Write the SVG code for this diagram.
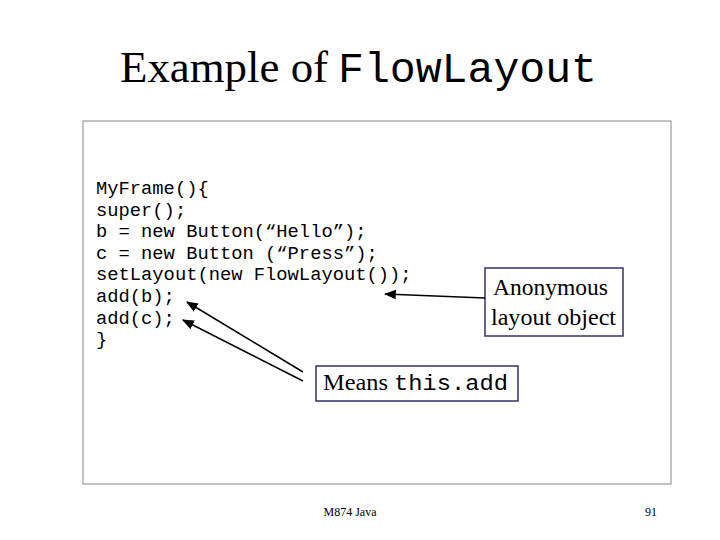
<svg xmlns="http://www.w3.org/2000/svg" width="720" height="540" viewBox="0 0 720 540">
<style>
.t{font-family:"Liberation Serif",serif;fill:#000}
.m{font-family:"Liberation Mono",monospace;fill:#000}
.box{fill:#fff;stroke:#333366;stroke-width:1.5}
.c{stroke:#000;stroke-width:1.5;fill:none;marker-end:url(#ah)}
</style>
<defs><marker id="ah" viewBox="0 0 10 10" refX="9" refY="5" markerWidth="8" markerHeight="8" orient="auto"><path d="M0,1 L10,5 L0,9 Z" fill="#000"/></marker></defs>
<rect width="720" height="540" fill="#fff"/>
<text x="120" y="82" class="t" font-size="44" textLength="208" lengthAdjust="spacingAndGlyphs">Example of</text>
<text x="338" y="82" class="m" font-size="43" textLength="259" lengthAdjust="spacingAndGlyphs">FlowLayout</text>
<rect x="83" y="121" width="588" height="363" fill="none" stroke="#888" stroke-width="1"/>
<g id="code" class="m" font-size="18.8">
<text x="96" y="194">MyFrame(){</text>
<text x="96" y="216">super();</text>
<text x="96" y="237">b = new Button(“Hello”);</text>
<text x="96" y="259">c = new Button (“Press”);</text>
<text x="96" y="280">setLayout(new FlowLayout());</text>
<text x="96" y="302">add(b);</text>
<text x="96" y="324">add(c);</text>
<text x="96" y="345">}</text>
</g>
<g id="anon"><rect class="box" x="485" y="268" width="138" height="68"/>
<text class="t" font-size="23" x="493" y="295" textLength="115" lengthAdjust="spacingAndGlyphs">Anonymous</text>
<text class="t" font-size="23" x="491" y="325" textLength="125" lengthAdjust="spacingAndGlyphs">layout object</text></g>
<g id="means"><rect class="box" x="316" y="366" width="202" height="35"/>
<text class="t" font-size="23" x="323" y="390" textLength="65" lengthAdjust="spacingAndGlyphs">Means</text>
<text class="m" font-size="22" x="394" y="390" textLength="114" lengthAdjust="spacingAndGlyphs">this.add</text></g>
<g id="connectors">
<line class="c" x1="485" y1="298" x2="385" y2="294"/>
<line class="c" x1="303" y1="372" x2="187" y2="302"/>
<line class="c" x1="303" y1="381" x2="183" y2="320"/>
</g>
<text class="t" font-size="12" x="350" y="516" text-anchor="middle">M874 Java</text>
<text class="t" font-size="12" x="651" y="516" text-anchor="middle">91</text>
</svg>
